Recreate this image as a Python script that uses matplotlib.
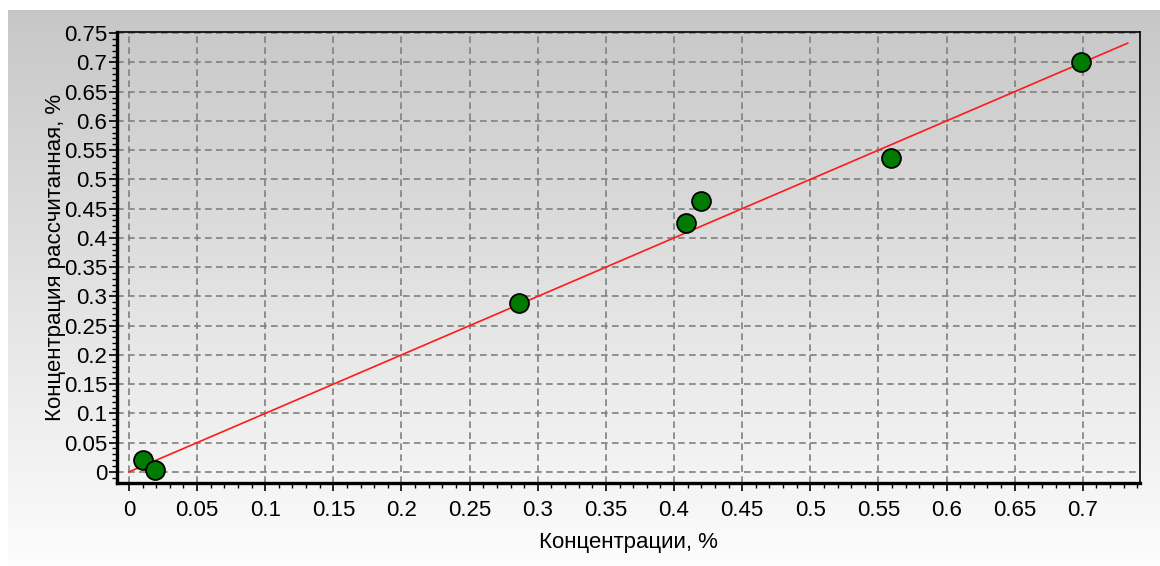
import numpy as np
import matplotlib
matplotlib.use("Agg")
import matplotlib.pyplot as plt
from matplotlib.ticker import MultipleLocator, FuncFormatter

# ---- data ----
x_vals = [0.01, 0.019, 0.286, 0.409, 0.420, 0.559, 0.699]
y_vals = [0.020, 0.003, 0.289, 0.425, 0.463, 0.537, 0.700]
fit_x = [0.0, 0.733]
fit_y = [0.0, 0.733]
x_label = "Концентрации, %"
y_label = "Концентрация рассчитанная, %"

plt.rcParams['font.family'] = ['Liberation Sans', 'DejaVu Sans']

W, H = 1160, 566
fig = plt.figure(figsize=(W / 100, H / 100), dpi=100)
fig.patch.set_facecolor('white')

# background gradient panel
bg = fig.add_axes([8 / W, 0, 1 - 8 / W, 1 - 10 / H])
grad = np.linspace(0, 1, 256).reshape(-1, 1)
top_c = np.array([0.78, 0.78, 0.78])
bot_c = np.array([0.99, 0.99, 0.99])
img = top_c + (bot_c - top_c) * grad
img = np.repeat(img[:, :, None].transpose(0, 2, 1), 2, axis=1)
bg.imshow(img, aspect='auto', extent=[0, 1, 0, 1], origin='upper')
bg.set_axis_off()

ax = fig.add_axes([117 / W, 1 - 483 / H, (1140 - 117) / W, (483 - 32) / H])
ax.set_facecolor('none')

ax.plot(fit_x, fit_y, color='#ff1a1a', lw=1.2, zorder=3)
ax.scatter(x_vals, y_vals, s=185, color='#007a00', edgecolor='black',
           linewidth=1.3, zorder=4)

ax.set_xlim(-0.0088, 0.742)
ax.set_ylim(-0.019, 0.752)

ax.xaxis.set_major_locator(MultipleLocator(0.05))
ax.xaxis.set_minor_locator(MultipleLocator(0.01))
ax.yaxis.set_major_locator(MultipleLocator(0.05))
ax.yaxis.set_minor_locator(MultipleLocator(0.01))

fmt = FuncFormatter(lambda v, p: ('%g' % round(v, 3)))
ax.xaxis.set_major_formatter(fmt)
ax.yaxis.set_major_formatter(fmt)

ax.grid(True, which='major', color='#808080', linestyle=(0, (4, 2.6)), lw=1.2)
ax.set_axisbelow(True)

for s in ['left', 'bottom']:
    ax.spines[s].set_linewidth(2.4)
for s in ['top', 'right']:
    ax.spines[s].set_linewidth(1.2)

ax.tick_params(axis='both', which='major', direction='out', length=6,
               width=1.2, labelsize=16, colors='black', pad=1)
ax.tick_params(axis='x', which='major', pad=6)
ax.tick_params(axis='both', which='minor', direction='out', length=3.5, width=1.0)

ax.set_xlabel(x_label, fontsize=16, labelpad=8)
ax.set_ylabel(y_label, fontsize=16)
ax.yaxis.set_label_coords(-0.05, 0.5)

fig.savefig('out.png', dpi=100)
